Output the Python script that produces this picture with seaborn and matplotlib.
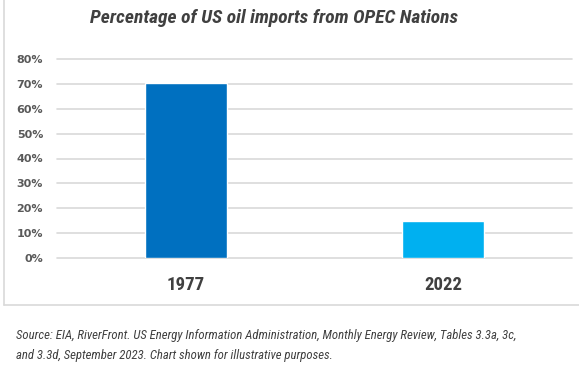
import matplotlib
matplotlib.use("Agg")
import matplotlib.pyplot as plt
from matplotlib import font_manager
import seaborn as sns
import pandas as pd

years = ["1977", "2022"]
pct = [70.4, 15.0]
colors = ["#0070C0", "#00B0F0"]
yticks = [0, 10, 20, 30, 40, 50, 60, 70, 80]
title = "Percentage of US oil imports from OPEC Nations"
source = ("Source: EIA, RiverFront. US Energy Information Administration, Monthly Energy Review, Tables 3.3a, 3c,\n"
          "and 3.3d, September 2023. Chart shown for illustrative purposes.")

sns.set_theme(style="white")
names = {f.name for f in font_manager.fontManager.ttflist}
cond = None
for c in ["Liberation Sans Narrow", "Roboto Condensed", "Open Sans Condensed", "Roboto", "Liberation Sans"]:
    if c in names:
        cond = c
        break
plt.rcParams['font.family'] = [cond, 'DejaVu Sans'] if cond else ['DejaVu Sans']

df = pd.DataFrame({"year": years, "pct": pct})

fig = plt.figure(figsize=(5.79, 3.82), dpi=100)
ax = fig.add_axes([57/579, 1-258/382, (572-57)/579, (258-59)/382])
sns.barplot(data=df, x="year", y="pct", hue="year", palette=colors, width=0.32,
            legend=False, saturation=1, ax=ax, zorder=3)
ax.set_xlim(-0.5, 1.5)
ax.set_ylim(0, 80)
ax.set_yticks(yticks)
ax.set_yticklabels([f"{v}%" for v in yticks])
ax.yaxis.grid(True, color="#D9D9D9", linewidth=1.2, zorder=0)
for gl in ax.get_ygridlines():
    gl.set_clip_on(False)
ax.set_axisbelow(True)
for s in ax.spines.values():
    s.set_visible(False)
ax.tick_params(axis="y", length=0, pad=10, labelsize=8, labelcolor="#595959")
ax.tick_params(axis="x", length=0, pad=13, labelsize=13.5, labelcolor="#404040")
for lab in ax.get_yticklabels():
    lab.set_fontweight("bold")
    lab.set_family("DejaVu Sans")
for lab in ax.get_xticklabels():
    lab.set_fontweight("bold")
ax.set_xlabel("")
ax.set_ylabel("")

fig.text(274/579, 1-18/382, title, ha="center", va="center", fontsize=14,
         fontweight="bold", fontstyle="italic", color="#404040")
fig.text(16/579, 1-329/382, source, ha="left", va="top", fontsize=9.2,
         fontstyle="italic", color="#404040", linespacing=1.7)

# chart border
fig.add_artist(plt.Line2D([4/579, 4/579], [1-305/382, 1.0], transform=fig.transFigure,
                          color="#D9D9D9", linewidth=1.2))
fig.add_artist(plt.Line2D([4/579, 1.0], [1-305/382, 1-305/382], transform=fig.transFigure,
                          color="#D9D9D9", linewidth=1.2))

fig.savefig("out.png", dpi=100)
